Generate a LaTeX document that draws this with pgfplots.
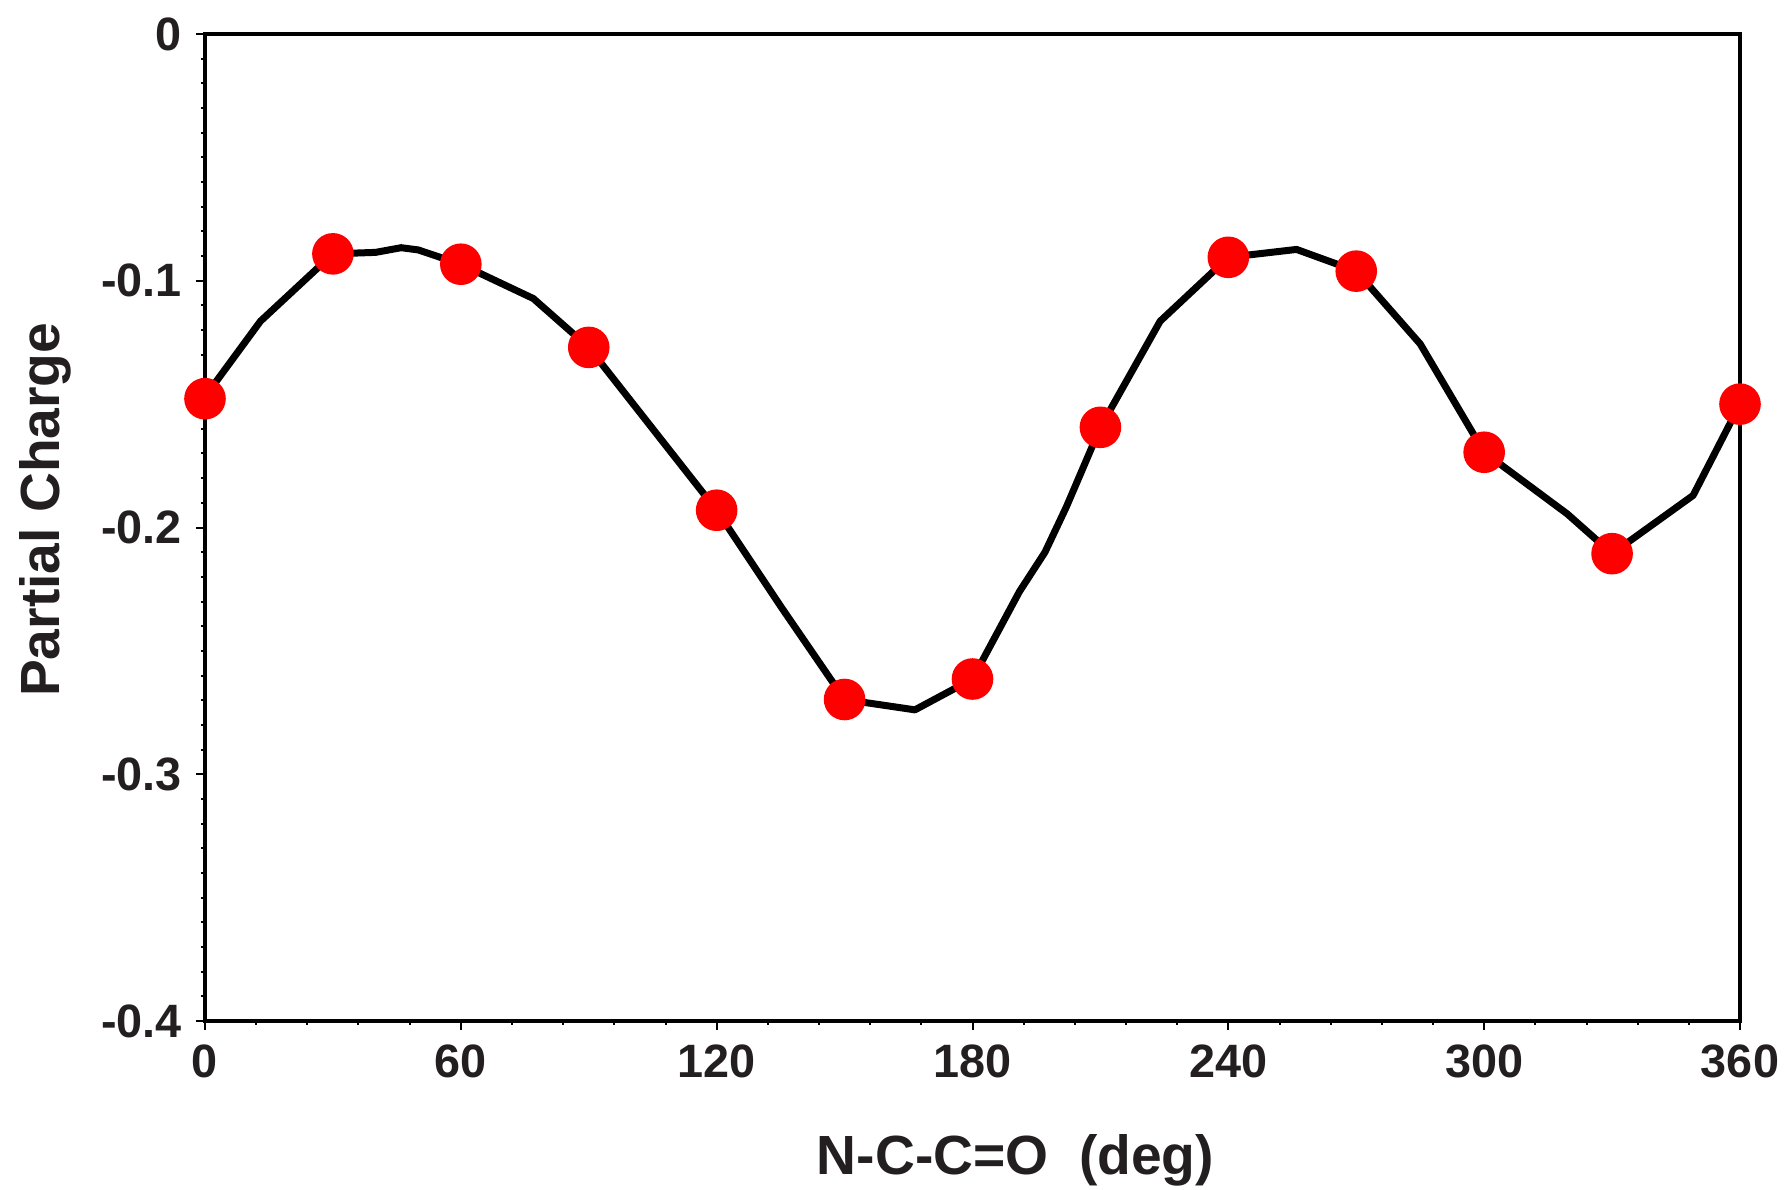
\documentclass[border=0pt]{standalone}
\usepackage{fontspec}
\setmainfont{Liberation Sans}
\usepackage{pgfplots}
\pgfplotsset{compat=1.18}
\definecolor{txt}{HTML}{231F20}
\begin{document}
\begin{tikzpicture}
\begin{axis}[
  scale only axis, width=383.75pt, height=246.75pt,
  xmin=0, xmax=360, ymin=-0.4, ymax=0,
  xtick={0,60,...,360},
  ytick={-0.4,-0.3,-0.2,-0.1,0},
  yticklabels={-0.4,-0.3,-0.2,-0.1,0},
  minor x tick num=4, minor y tick num=9,
  tick pos=left, tick align=outside,
  major tick length=2.3pt, minor tick length=0.9pt,
  every tick/.style={black, line width=0.5pt},
  axis line style={line width=1.1pt},
  ticklabel style={font=\fontsize{11.7}{12}\selectfont\bfseries, text=txt},
  /pgf/number format/assume math mode=true,
  xlabel={N-C-C=O\ \ (deg)}, ylabel={Partial Charge},
  label style={font=\fontsize{13.8}{15}\selectfont\bfseries, text=txt},
  xlabel style={at={(axis description cs:0.528,-0.141)}, anchor=center},
  ylabel style={at={(axis description cs:-0.104,0.518)}, anchor=center},
  clip=false,
]
\addplot[black, line width=1.75pt, line join=round, no markers] coordinates {
 (0,-0.147) (13,-0.1164) (30,-0.0891) (40,-0.0885) (46,-0.0866) (50,-0.0875)
 (60,-0.0933) (77,-0.1072) (90,-0.127) (120,-0.193) (135,-0.2319)
 (150,-0.2697) (166.5,-0.2739) (180,-0.2614) (191,-0.226) (197,-0.210)
 (202,-0.1917) (210,-0.1594) (224,-0.1164) (240,-0.0905) (256,-0.0873)
 (270,-0.0961) (285,-0.1256) (300,-0.1695) (319.5,-0.1945) (330,-0.2106)
 (349,-0.187) (360,-0.150)
};
\addplot[only marks, mark=*, mark size=5pt, color=red, fill=red, draw=none, mark options={draw=none}] coordinates {
 (0,-0.1478) (30,-0.0891) (60,-0.0933) (90,-0.127) (120,-0.193)
 (150,-0.2697) (180,-0.2614) (210,-0.1594) (240,-0.0905) (270,-0.0961)
 (300,-0.1695) (330,-0.2106) (360,-0.150)
};
\coordinate (sw) at (rel axis cs:0,0);
\coordinate (ne) at (rel axis cs:1,1);
\end{axis}
\pgfresetboundingbox
\path ([shift={(-51.25pt,-42pt)}]sw) rectangle ([shift={(11.75pt,8.5pt)}]ne);
\end{tikzpicture}
\end{document}
